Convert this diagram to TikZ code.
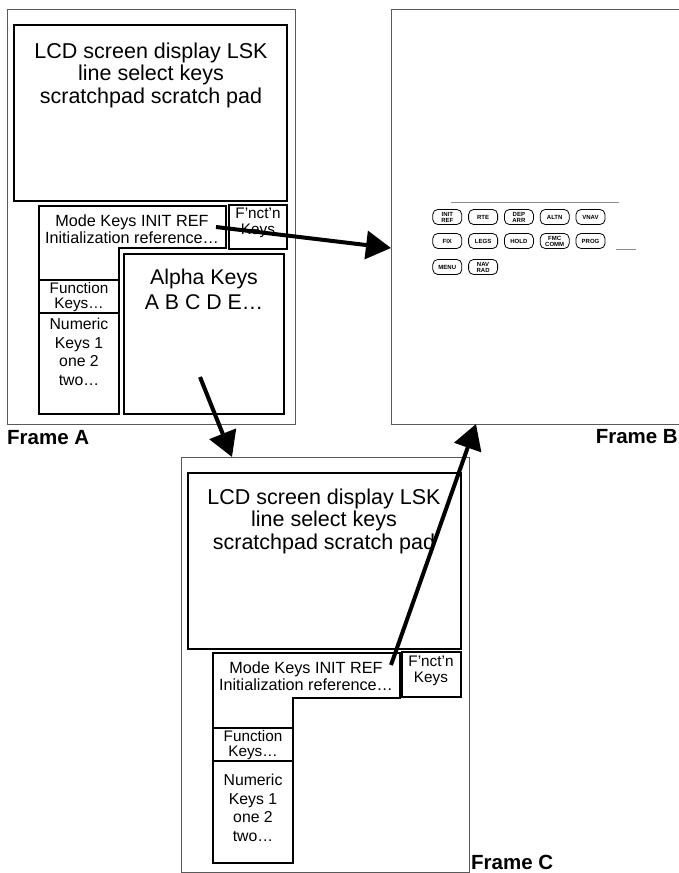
\documentclass[tikz,border=0pt]{standalone}
\usepackage{fontspec}
\setmainfont{Liberation Sans}
\usetikzlibrary{arrows.meta}

\begin{document}
\begin{tikzpicture}[
  x=1pt,y=-1pt,
  >={Triangle[length=25pt,width=28pt]},
  frame/.style={draw=black!65,line width=1pt},
  box/.style={draw,line width=1.4pt},
  txt/.style={inner sep=0pt,align=center},
  big/.style={txt,font=\fontsize{21.5}{22.5}\selectfont},
  mid/.style={txt,font=\fontsize{16.2}{16.5}\selectfont},
  small/.style={txt,font=\fontsize{15.3}{15.5}\selectfont},
  numtxt/.style={txt,font=\fontsize{15.8}{18.5}\selectfont},
  lbl/.style={inner sep=0pt,font=\fontsize{20.5}{22}\selectfont\bfseries},
  key/.style={draw,line width=0.8pt,rounded corners=5pt,minimum width=29pt,minimum height=15pt,
    inner sep=0pt,align=center,font=\fontsize{6}{6}\selectfont\bfseries},
  link/.style={->,line width=4pt}
]
\useasboundingbox (0,0) rectangle (678,873);

% Frame A
\draw[frame] (7,9) rectangle (295,424);
\node[lbl,anchor=west] (labA) at (7,438) {Frame A};
\draw[box] (14,25) rectangle (287,201);
\node[big] (lcdA) at (151,75) {LCD screen display LSK\\line select keys\\scratchpad scratch pad};
\draw[box] (39,206) -- (226,206) -- (226,248) -- (119,248) -- (119,280) -- (39,280) -- cycle;
\node[mid] (modeA) at (132,229) {Mode Keys INIT REF\\Initialization reference…};
\draw[box] (229,205) rectangle (287,249);
\node[small] (fnA) at (258,223) {F'nct'n\\Keys};
\draw[box] (124,254) rectangle (284,414);
\node[big,font=\fontsize{21.3}{25}\selectfont] (alphaA) at (204,289) {Alpha Keys\\A B C D E…};
\draw[box] (39,280) rectangle (119,313);
\node[small] (funcA) at (79,297) {Function\\Keys…};
\draw[box] (39,313) rectangle (119,414);
\node[numtxt] (numA) at (79,352) {Numeric\\Keys 1\\one 2\\two…};

% Frame B
\draw[frame] (391,9) rectangle (680,424);
\node[lbl,anchor=east] (labB) at (678,437) {Frame B};
\draw[black!45,line width=0.6pt] (451,202) -- (619,202);
\draw[black!45,line width=0.6pt] (616,249) -- (636,249);
\foreach \t [count=\i] in {{INIT\\REF},RTE,{DEP\\ARR},ALTN,VNAV}
  \node[key] (k1\i) at (411.5+35.8*\i,217) {\t};
\foreach \t [count=\i] in {FIX,LEGS,HOLD,{FMC\\COMM},PROG}
  \node[key] (k2\i) at (411.5+35.8*\i,241) {\t};
\foreach \t [count=\i] in {MENU,{NAV\\RAD}}
  \node[key] (k3\i) at (411.5+35.8*\i,267) {\t};

% Frame C
\draw[frame] (181,457) rectangle (469,872);
\node[lbl,anchor=west] (labC) at (471,862) {Frame C};
\draw[box] (188,473) rectangle (461,649);
\node[big] (lcdC) at (324,521) {LCD screen display LSK\\line select keys\\scratchpad scratch pad};
\draw[box] (213,653) -- (400,653) -- (400,698) -- (293,698) -- (293,728) -- (213,728) -- cycle;
\node[mid] (modeC) at (306,676) {Mode Keys INIT REF\\Initialization reference…};
\draw[box] (402,652) rectangle (461,697);
\node[small] (fnC) at (431,671) {F'nct'n\\Keys};
\draw[box] (213,728) rectangle (293,761);
\node[small] (funcC) at (253,745) {Function\\Keys…};
\draw[box] (213,761) rectangle (293,863);
\node[numtxt] (numC) at (253,808) {Numeric\\Keys 1\\one 2\\two…};

% transitions
\coordinate (outA) at (216,227);
\coordinate (inB) at (391,248);
\coordinate (downA) at (200,377);
\coordinate (inC) at (232,457);
\coordinate (outC) at (391,665);
\coordinate (upB) at (476,424);
\draw[link] (outA) -- (inB);
\draw[link] (downA) -- (inC);
\draw[link] (outC) -- (upB);
\end{tikzpicture}
\end{document}
